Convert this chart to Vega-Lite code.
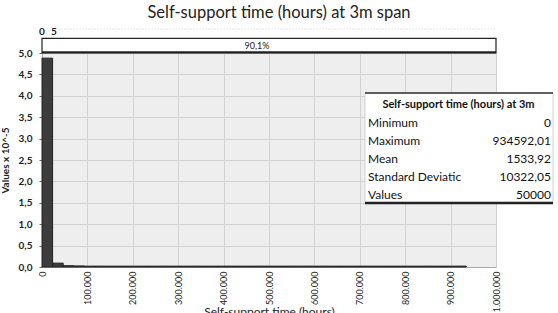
{
  "$schema": "https://vega.github.io/schema/vega-lite/v6.json",
  "autosize": {"type": "none"},
  "width": 454,
  "height": 214,
  "padding": {"left": 42, "top": 53, "right": 62, "bottom": 46},
  "background": "white",
  "title": {"text": "Self-support time (hours) at 3m span", "font": "Lato", "fontSize": 16.5, "fontWeight": "normal", "color": "#222", "frame": "group", "offset": 5, "dx": 10},
  "config": {
    "view": {"fill": "#eeeeee", "stroke": null},
    "axis": {"labelFont": "Lato", "titleFont": "Lato", "labelColor": "#222", "titleColor": "#222", "gridColor": "#d2d2d2", "gridWidth": 1, "domainColor": "#aaaaaa", "tickColor": "#666", "labelOverlap": false}
  },
  "datasets": {
    "hist": [
      {"bin_start": 0, "bin_end": 23364.8, "density": 4.88},
      {"bin_start": 23364.8, "bin_end": 46729.6, "density": 0.09},
      {"bin_start": 46729.6, "bin_end": 70094.4, "density": 0.03},
      {"bin_start": 70094.4, "bin_end": 93459.2, "density": 0.025},
      {"bin_start": 93459.2, "bin_end": 116824, "density": 0.02},
      {"bin_start": 116824, "bin_end": 140188.8, "density": 0.02},
      {"bin_start": 140188.8, "bin_end": 163553.6, "density": 0.02},
      {"bin_start": 163553.6, "bin_end": 186918.4, "density": 0.02},
      {"bin_start": 186918.4, "bin_end": 210283.2, "density": 0.02},
      {"bin_start": 210283.2, "bin_end": 233648, "density": 0.02},
      {"bin_start": 233648, "bin_end": 257012.8, "density": 0.02},
      {"bin_start": 257012.8, "bin_end": 280377.6, "density": 0.02},
      {"bin_start": 280377.6, "bin_end": 303742.4, "density": 0.02},
      {"bin_start": 303742.4, "bin_end": 327107.2, "density": 0.02},
      {"bin_start": 327107.2, "bin_end": 350472, "density": 0.02},
      {"bin_start": 350472, "bin_end": 373836.8, "density": 0.02},
      {"bin_start": 373836.8, "bin_end": 397201.6, "density": 0.02},
      {"bin_start": 397201.6, "bin_end": 420566.4, "density": 0.02},
      {"bin_start": 420566.4, "bin_end": 443931.2, "density": 0.02},
      {"bin_start": 443931.2, "bin_end": 467296, "density": 0.02},
      {"bin_start": 467296, "bin_end": 490660.8, "density": 0.02},
      {"bin_start": 490660.8, "bin_end": 514025.6, "density": 0.02},
      {"bin_start": 514025.6, "bin_end": 537390.4, "density": 0.02},
      {"bin_start": 537390.4, "bin_end": 560755.2, "density": 0.02},
      {"bin_start": 560755.2, "bin_end": 584120, "density": 0.02},
      {"bin_start": 584120, "bin_end": 607484.8, "density": 0.02},
      {"bin_start": 607484.8, "bin_end": 630849.6, "density": 0.02},
      {"bin_start": 630849.6, "bin_end": 654214.4, "density": 0.02},
      {"bin_start": 654214.4, "bin_end": 677579.2, "density": 0.02},
      {"bin_start": 677579.2, "bin_end": 700944, "density": 0.02},
      {"bin_start": 700944, "bin_end": 724308.8, "density": 0.02},
      {"bin_start": 724308.8, "bin_end": 747673.6, "density": 0.02},
      {"bin_start": 747673.6, "bin_end": 771038.4, "density": 0.02},
      {"bin_start": 771038.4, "bin_end": 794403.2, "density": 0.02},
      {"bin_start": 794403.2, "bin_end": 817768, "density": 0.02},
      {"bin_start": 817768, "bin_end": 841132.8, "density": 0.02},
      {"bin_start": 841132.8, "bin_end": 864497.6, "density": 0.02},
      {"bin_start": 864497.6, "bin_end": 887862.4, "density": 0.02},
      {"bin_start": 887862.4, "bin_end": 911227.2, "density": 0.02},
      {"bin_start": 911227.2, "bin_end": 934592, "density": 0.02}
    ],
    "stats": [
      {"stat": "Minimum", "value": "0"},
      {"stat": "Maximum", "value": "934592,01"},
      {"stat": "Mean", "value": "1533,92"},
      {"stat": "Standard Deviatic", "value": "10322,05"},
      {"stat": "Values", "value": "50000"}
    ]
  },
  "data": {"values": [{}]},
  "encoding": {
    "x": {"type": "quantitative",
          "scale": {"domain": [0, 1000000], "nice": false},
          "axis": {"values": [0, 100000, 200000, 300000, 400000, 500000, 600000, 700000, 800000, 900000, 1000000],
                   "labelExpr": "replace(format(datum.value, ',d'), /,/g, '.')",
                   "labelAngle": -90, "labelFontSize": 9, "labelPadding": 4, "tickSize": 0,
                   "title": "Self-support time (hours)", "titleFontSize": 12, "titleFontWeight": "normal",
                   "titleBaseline": "top", "titleY": 39}},
    "y": {"type": "quantitative",
          "scale": {"domain": [0, 5], "nice": false},
          "axis": {"values": [0, 0.5, 1, 1.5, 2, 2.5, 3, 3.5, 4, 4.5, 5], "labelOverlap": false,
                   "labelExpr": "replace(format(datum.value, '.1f'), '.', ',')",
                   "labelFontSize": 10, "labelFontWeight": "bold", "labelPadding": 7, "tickSize": 3,
                   "title": "Values x 10^-5", "titleFontSize": 10, "titleFontWeight": "bold", "titlePadding": 8}}
  },
  "layer": [
    {
      "data": {"name": "hist"},
      "mark": {"type": "rect", "fill": "#3c3c3c", "stroke": "#222222", "strokeWidth": 1},
      "encoding": {
        "x": {"field": "bin_start", "type": "quantitative"},
        "x2": {"field": "bin_end"},
        "y": {"field": "density", "type": "quantitative"},
        "y2": {"datum": 0}
      }
    },
    {
      "mark": {"type": "rule", "stroke": "#cccccc", "strokeDash": [1, 2]},
      "encoding": {"x": {"datum": 30000}, "x2": {"datum": 1000000}, "y": {"datum": 5.56}}
    },
    {
      "mark": {"type": "rect", "fill": "white", "stroke": "#222222", "strokeWidth": 1.2},
      "encoding": {"x": {"datum": 0}, "x2": {"datum": 1000000}, "y": {"datum": 5.0}, "y2": {"datum": 5.34}}
    },
    {
      "mark": {"type": "rule", "stroke": "#222222", "strokeWidth": 2},
      "encoding": {"x": {"datum": 0}, "x2": {"datum": 1000000}, "y": {"datum": 5.02}}
    },
    {
      "mark": {"type": "text", "font": "Lato", "fontSize": 9, "color": "#222", "baseline": "middle"},
      "encoding": {"x": {"datum": 473600}, "y": {"datum": 5.17}, "text": {"value": "90,1%"}}
    },
    {
      "mark": {"type": "text", "font": "Lato", "fontSize": 10, "fontWeight": "bold", "color": "#222", "baseline": "middle"},
      "encoding": {"x": {"datum": 0}, "y": {"datum": 5.5}, "text": {"value": "0"}}
    },
    {
      "mark": {"type": "text", "font": "Lato", "fontSize": 10, "fontWeight": "bold", "color": "#222", "baseline": "middle", "dx": 12},
      "encoding": {"x": {"datum": 5}, "y": {"datum": 5.5}, "text": {"value": "5"}}
    },
    {
      "mark": {"type": "rect", "fill": "white", "stroke": "#d0d0d0", "strokeWidth": 1},
      "encoding": {"x": {"datum": 711450}, "x2": {"datum": 1125550}, "y": {"datum": 1.495}, "y2": {"datum": 4.065}}
    },
    {
      "mark": {"type": "rule", "stroke": "#333333", "strokeWidth": 1.5},
      "encoding": {"x": {"datum": 711450}, "x2": {"datum": 1125550}, "y": {"datum": 4.065}}
    },
    {
      "mark": {"type": "rule", "stroke": "#222222", "strokeWidth": 2.5},
      "encoding": {"x": {"datum": 711450}, "x2": {"datum": 1125550}, "y": {"datum": 1.495}}
    },
    {
      "mark": {"type": "text", "font": "Lato", "fontSize": 11, "fontWeight": "bold", "color": "#111", "baseline": "middle", "align": "center"},
      "encoding": {"x": {"datum": 917400}, "y": {"datum": 3.785}, "text": {"value": "Self-support time (hours) at 3m"}}
    },
    {
      "data": {"name": "stats"},
      "mark": {"type": "text", "font": "Lato", "fontSize": 12, "color": "#111", "baseline": "middle", "align": "left"},
      "encoding": {
        "x": {"datum": 718000},
        "y": {"datum": 3.364},
        "yOffset": {"field": "stat", "type": "ordinal", "sort": null, "scale": {"type": "point", "range": [0, 72], "padding": 0}},
        "text": {"field": "stat"}
      }
    },
    {
      "data": {"name": "stats"},
      "mark": {"type": "text", "font": "Lato", "fontSize": 12, "color": "#111", "baseline": "middle", "align": "right"},
      "encoding": {
        "x": {"datum": 1121000},
        "y": {"datum": 3.364},
        "yOffset": {"field": "stat", "type": "ordinal", "sort": null, "scale": {"type": "point", "range": [0, 72], "padding": 0}},
        "text": {"field": "value"}
      }
    }
  ]
}
